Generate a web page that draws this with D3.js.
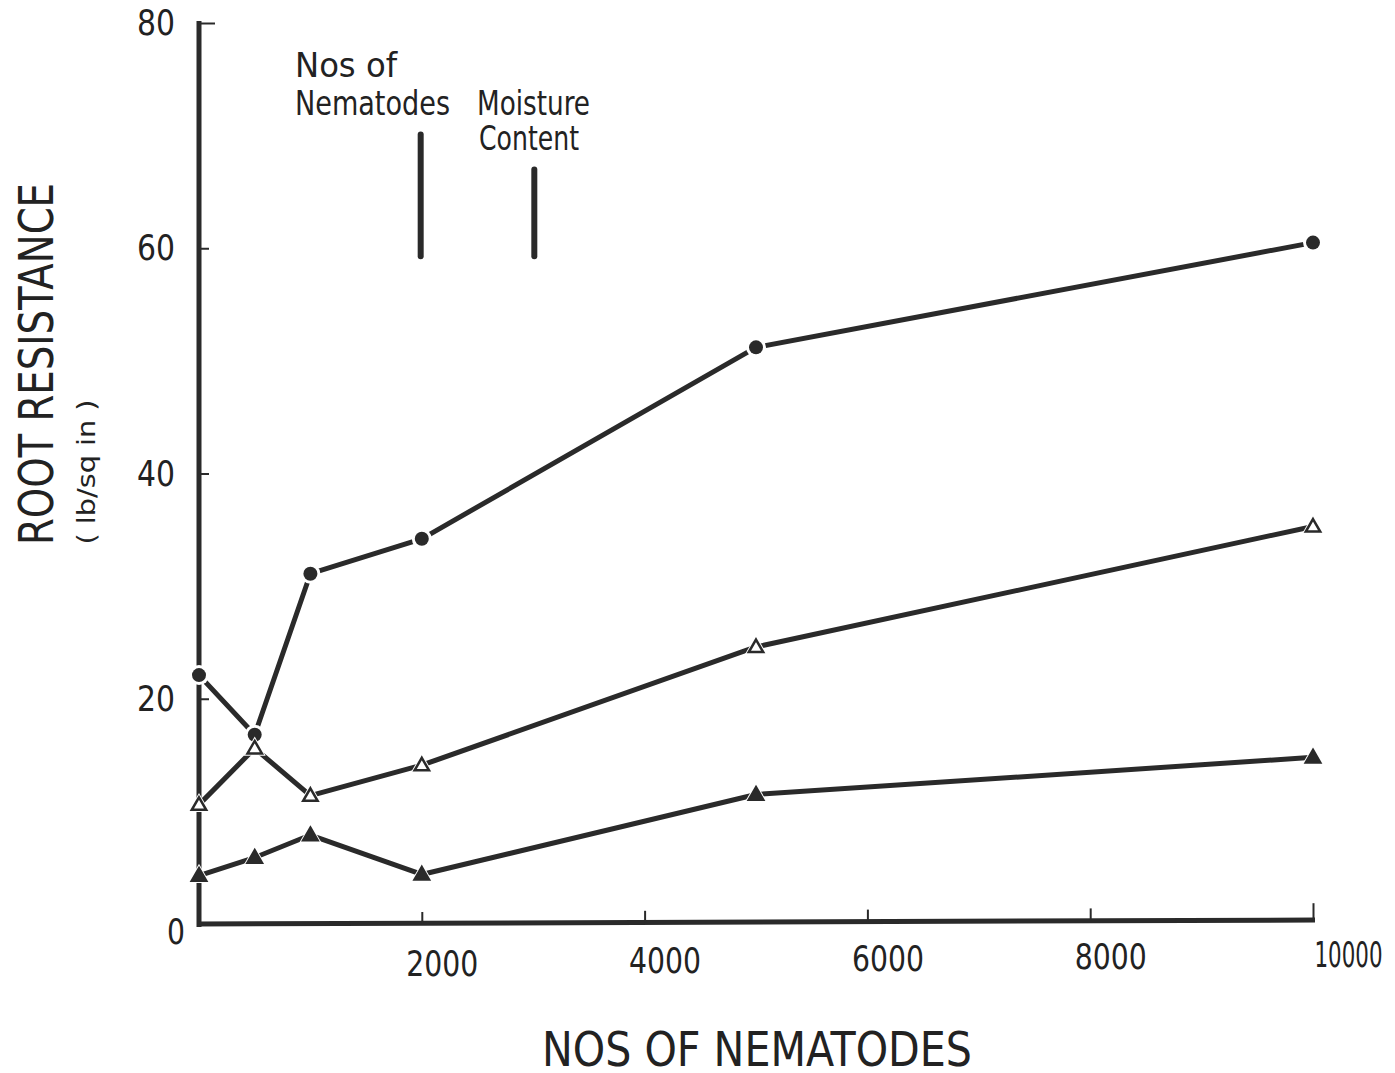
<!DOCTYPE html>
<html>
<head>
<meta charset="utf-8">
<script src="https://cdn.jsdelivr.net/npm/d3@7"></script>
<style>
  body { margin: 0; background: #fff; }
  svg { display: block; }
  text { font-family: "DejaVu Sans Condensed", "Liberation Sans", sans-serif; fill: #222; }
</style>
</head>
<body>
<div id="chart"></div>
<script>
// nematode counts (x) and root resistance readings for the three series
const nematodes = [0, 500, 1000, 2000, 5000, 10000]
const filledCircle = [22.1, 16.8, 31.1, 34.2, 51.2, 60.5]
const openTriangle = [10.6, 15.6, 11.4, 14.1, 24.6, 35.3]
const filledTriangle = [4.3, 5.9, 7.9, 4.4, 11.5, 14.8]

const xTicks = [2000, 4000, 6000, 8000, 10000]
const yTicks = [0, 20, 40, 60, 80]

// LSD bars: label lines, x position, bottom and top values
const lsdBars = [
  {label: ["Nos  of", "Nematodes"], x: 1990, y0: 59.3, y1: 70.1},
  {label: ["Moisture", "Content"], x: 3010, y0: 59.3, y1: 67.0}
]

const width = 1395
const height = 1073
const ink = "#2a2a2a"

const svg = d3.select("#chart").append("svg")
  .attr("width", width)
  .attr("height", height)
  .attr("viewBox", [0, 0, width, height])

const x = d3.scaleLinear().domain([0, 10000]).range([199, 1313])
const y = d3.scaleLinear().domain([0, 80]).range([924, 23])

// axes
svg.append("line")
  .attr("x1", x(0)).attr("x2", x(0))
  .attr("y1", y(80) - 2).attr("y2", y(0) + 3)
  .attr("stroke", ink).attr("stroke-width", 5)
svg.append("line")
  .attr("x1", x(0) - 2).attr("x2", x(10000) + 2)
  .attr("y1", y(0)).attr("y2", y(0) - 4)
  .attr("stroke", ink).attr("stroke-width", 5)

const yAxis = svg.append("g")
  .attr("transform", `translate(${x(0)},0)`)
  .call(d3.axisLeft(y).tickValues(yTicks).tickSize(-10).tickPadding(24))
yAxis.select(".domain").remove()
yAxis.selectAll(".tick line").attr("stroke", ink).attr("stroke-width", 2)
  .attr("x1", 2)
  .attr("x2", d => d === 80 ? 16 : 10)
  .attr("opacity", d => d === 0 ? 0 : 1)
yAxis.selectAll(".tick text")
  .attr("font-size", 36)
  .attr("textLength", d => d === 0 ? 18 : 38)
  .attr("lengthAdjust", "spacingAndGlyphs")
  .attr("x", d => d === 0 ? -14 : -24)
  .attr("dy", d => d === 0 ? "0.55em" : "0.32em")
  .style("font-family", null)

const xAxis = svg.append("g")
  .attr("transform", `translate(0,${y(0)})`)
  .call(d3.axisBottom(x).tickValues(xTicks).tickSize(-12).tickPadding(26).tickFormat(d3.format("d")))
xAxis.select(".domain").remove()
xAxis.selectAll(".tick line").attr("stroke", ink).attr("stroke-width", 2)
  .attr("y2", d => d === 10000 ? -16 : -12)
  .attr("transform", (d, i) => `translate(0,${-i * 1.2})`)
xAxis.selectAll(".tick text")
  .attr("font-size", 36)
  .attr("textLength", d => d === 10000 ? 68 : 72)
  .attr("lengthAdjust", "spacingAndGlyphs")
  .attr("dx", d => d === 10000 ? 35 : 20)
  .attr("dy", (d, i) => `${0.71 - i * 0.06}em`)
  .style("font-family", null)

// axis titles
svg.append("text")
  .attr("transform", `translate(53,364) rotate(-90)`)
  .attr("text-anchor", "middle")
  .attr("font-size", 48)
  .attr("textLength", 362)
  .attr("lengthAdjust", "spacingAndGlyphs")
  .text("ROOT  RESISTANCE")
svg.append("text")
  .attr("transform", `translate(95,472) rotate(-90)`)
  .attr("text-anchor", "middle")
  .attr("font-size", 25)
  .attr("textLength", 145)
  .attr("lengthAdjust", "spacingAndGlyphs")
  .text("( lb/sq in )")
svg.append("text")
  .attr("x", 757).attr("y", 1066)
  .attr("text-anchor", "middle")
  .attr("font-size", 48)
  .attr("textLength", 430)
  .attr("lengthAdjust", "spacingAndGlyphs")
  .text("NOS  OF  NEMATODES")

// LSD bars with labels
const labelLayout = [
  {x: 295, y: 77, dy: 38, lens: [102, 155]},
  {x: 477, y: 115, dy: 35, lens: [113, 100]}
]
lsdBars.forEach((b, i) => {
  svg.append("line")
    .attr("x1", x(b.x)).attr("x2", x(b.x))
    .attr("y1", y(b.y1)).attr("y2", y(b.y0))
    .attr("stroke", ink).attr("stroke-width", 6)
    .attr("stroke-linecap", "round")
  const L = labelLayout[i]
  const t = svg.append("text").attr("font-size", 33)
  b.label.forEach((line, j) => t.append("tspan")
    .attr("x", L.x + (i === 1 && j === 1 ? 2 : 0))
    .attr("y", L.y + j * L.dy)
    .attr("textLength", L.lens[j])
    .attr("lengthAdjust", "spacingAndGlyphs")
    .text(line))
})

// series lines
const series = [
  {values: filledCircle, marker: "circle", fill: ink},
  {values: openTriangle, marker: "triangle", fill: "#fff"},
  {values: filledTriangle, marker: "triangle", fill: ink}
]
const line = d3.line().x(d => x(d[0])).y(d => y(d[1]))

series.forEach(s => {
  const pts = nematodes.map((n, i) => [n, s.values[i]])
  svg.append("path")
    .attr("d", line(pts))
    .attr("fill", "none")
    .attr("stroke", ink)
    .attr("stroke-width", 5)
    .attr("stroke-linejoin", "round")
})

const tri = d3.symbol().type(d3.symbolTriangle)
series.forEach(s => {
  const pts = nematodes.map((n, i) => [n, s.values[i]])
  const g = svg.append("g")
  pts.forEach(p => {
    const cx = x(p[0]), cy = y(p[1])
    if (s.marker === "circle") {
      g.append("circle").attr("cx", cx).attr("cy", cy).attr("r", 10).attr("fill", "#fff")
      g.append("circle").attr("cx", cx).attr("cy", cy).attr("r", 7).attr("fill", s.fill)
    } else {
      g.append("path").attr("d", tri.size(210)()).attr("transform", `translate(${cx},${cy + 1})`)
        .attr("fill", "#fff")
      g.append("path").attr("d", tri.size(90)()).attr("transform", `translate(${cx},${cy + 1})`)
        .attr("fill", s.fill).attr("stroke", ink).attr("stroke-width", 2.5)
        .attr("stroke-linejoin", "miter")
    }
  })
})
</script>
</body>
</html>
